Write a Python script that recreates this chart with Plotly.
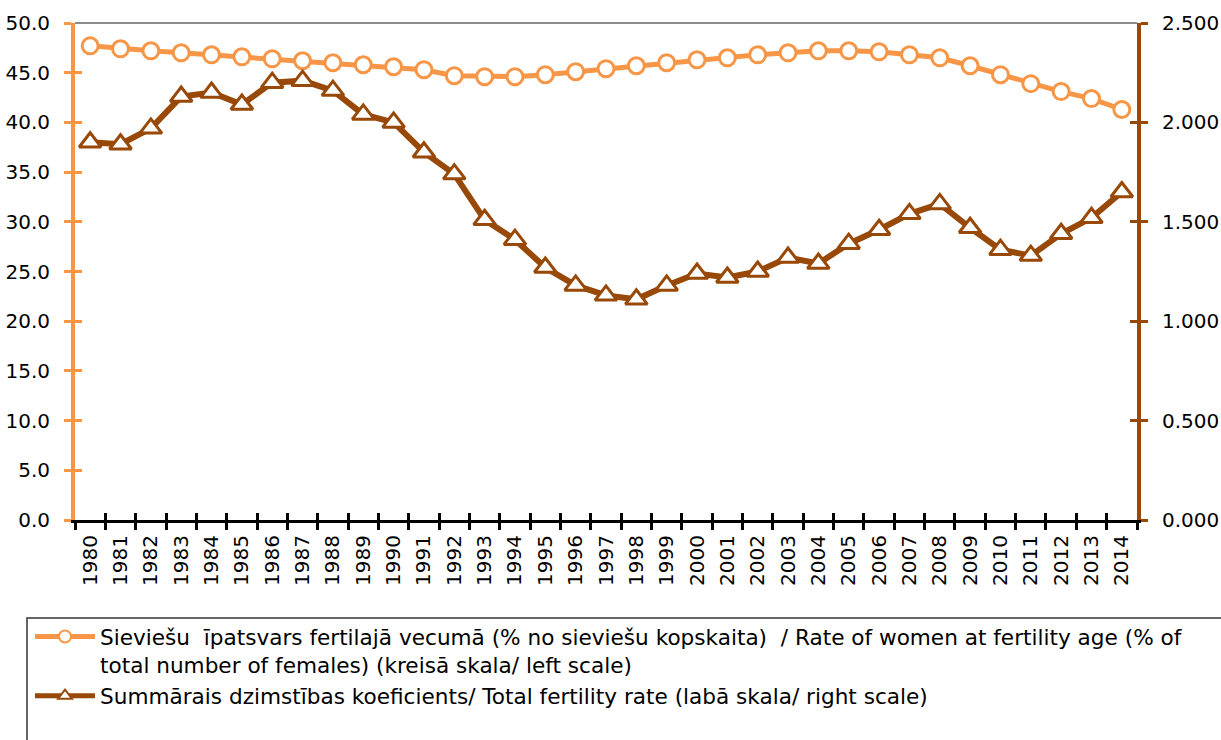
import plotly.graph_objects as go

years = [str(y) for y in range(1980, 2015)]

women_share = [47.7, 47.4, 47.2, 47.0, 46.8, 46.6, 46.4, 46.2, 46.0, 45.8,
               45.6, 45.3, 44.7, 44.6, 44.6, 44.8, 45.1, 45.4, 45.7, 46.0,
               46.3, 46.5, 46.8, 47.0, 47.2, 47.2, 47.1, 46.8, 46.5, 45.7,
               44.8, 43.9, 43.1, 42.4, 41.3]

fertility_rate = [1.90, 1.89, 1.97, 2.13, 2.15, 2.09, 2.20, 2.21, 2.16, 2.04,
                  2.00, 1.85, 1.74, 1.51, 1.41, 1.27, 1.18, 1.13, 1.11, 1.18,
                  1.24, 1.22, 1.25, 1.32, 1.29, 1.39, 1.46, 1.54, 1.59, 1.47,
                  1.36, 1.33, 1.44, 1.52, 1.65]

name_women = ("Sieviešu  īpatsvars fertilajā vecumā (% no sieviešu kopskaita)  / Rate of women at fertility age (% of"
              "<br>total number of females) (kreisā skala/ left scale)")
name_tfr = "Summārais dzimstības koeficients/ Total fertility rate (labā skala/ right scale)"

ORANGE = "#F79646"
BROWN = "#984807"
FONT = "DejaVu Sans"
TICK_SIZE = 20
LEG_SIZE = 21.6

W, H = 1221, 740
ML, MR, MT, MB = 75, 84, 23, 220
PW = W - ML - MR
PH = H - MT - MB


def px_x(px):
    return (px - ML) / PW


def px_y(py):
    return (H - MB - py) / PH


fig = go.Figure()

fig.add_trace(go.Scatter(
    x=years, y=women_share, name=name_women, mode="lines+markers",
    line=dict(color=ORANGE, width=5),
    marker=dict(symbol="circle", size=16, color="white", line=dict(color=ORANGE, width=3)),
    xaxis="x", yaxis="y", legendgroup="a",
))
fig.add_trace(go.Scatter(
    x=years, y=fertility_rate, name=name_tfr, mode="lines+markers",
    line=dict(color=BROWN, width=6),
    marker=dict(symbol="triangle-up", size=19, color="white", line=dict(color=BROWN, width=3)),
    xaxis="x", yaxis="y2", legendgroup="b",
))

fig.update_layout(
    width=W, height=H, autosize=False,
    margin=dict(l=ML, r=MR, t=MT, b=MB, autoexpand=False),
    paper_bgcolor="white", plot_bgcolor="white",
    font=dict(family=FONT, size=TICK_SIZE, color="black"),
    showlegend=True,
    legend=dict(
        x=px_x(30), y=px_y(616), xanchor="left", yanchor="top",
        bgcolor="rgba(0,0,0,0)", borderwidth=0,
        font=dict(family=FONT, size=LEG_SIZE, color="black"),
        valign="top", itemwidth=60, tracegroupgap=8, itemsizing="constant",
        traceorder="normal",
    ),
    xaxis=dict(
        type="category", categoryorder="array", categoryarray=years,
        range=[-0.5, len(years) - 0.5],
        tickson="boundaries", ticks="outside", ticklen=7, tickwidth=3, tickcolor="black",
        showline=True, linecolor="black", linewidth=3,
        showgrid=False, zeroline=False, tickangle=-90,
        tickfont=dict(family=FONT, size=TICK_SIZE, color="black"),
        ticklabelstandoff=4,
        anchor="y",
    ),
    xaxis2=dict(
        overlaying="x", type="linear", range=[-0.5, len(years) - 0.5],
        tick0=-0.5, dtick=1, ticks="inside", ticklen=7, tickwidth=3, tickcolor="black",
        showticklabels=False, showline=False, showgrid=False, zeroline=False,
        anchor="y", side="bottom",
    ),
    yaxis=dict(
        range=[0, 50], dtick=5, tick0=0, tickformat=".1f",
        ticks="outside", ticklen=7, tickwidth=3, tickcolor=ORANGE,
        showline=True, linecolor=ORANGE, linewidth=4,
        showgrid=False, zeroline=False,
        tickfont=dict(family=FONT, size=TICK_SIZE, color="black"),
        ticklabelstandoff=10,
    ),
    yaxis3=dict(
        overlaying="y", range=[0, 50], dtick=5, tick0=0,
        ticks="inside", ticklen=7, tickwidth=3, tickcolor=ORANGE,
        showticklabels=False, showline=False, showgrid=False, zeroline=False,
        anchor="x", side="left",
    ),
    yaxis2=dict(
        overlaying="y", side="right", anchor="x",
        range=[0, 2.5], dtick=0.5, tick0=0, tickformat=".3f",
        ticks="outside", ticklen=7, tickwidth=3, tickcolor=BROWN,
        showline=True, linecolor=BROWN, linewidth=4,
        showgrid=False, zeroline=False,
        tickfont=dict(family=FONT, size=TICK_SIZE, color="black"),
        ticklabelstandoff=10,
    ),
    yaxis4=dict(
        overlaying="y", side="right", anchor="x",
        range=[0, 2.5], dtick=0.5, tick0=0,
        ticks="inside", ticklen=7, tickwidth=3, tickcolor=BROWN,
        showticklabels=False, showline=False, showgrid=False, zeroline=False,
    ),
    shapes=[
        dict(type="line", xref="paper", yref="paper", x0=0, x1=1, y0=1, y1=1,
             line=dict(color="#8C8C8C", width=2), layer="below"),
        dict(type="rect", xref="paper", yref="paper",
             x0=px_x(27), x1=px_x(1240), y0=px_y(760), y1=px_y(618),
             line=dict(color="#333333", width=1.5), fillcolor="rgba(0,0,0,0)"),
    ],
)

# invisible helper traces so the overlay tick axes render
fig.add_trace(go.Scatter(x=[-0.5], y=[0], xaxis="x2", yaxis="y3", mode="markers",
                         marker=dict(opacity=0), showlegend=False, hoverinfo="skip"))
fig.add_trace(go.Scatter(x=[-0.5], y=[0], xaxis="x2", yaxis="y4", mode="markers",
                         marker=dict(opacity=0), showlegend=False, hoverinfo="skip"))

fig.write_html(
    "out.html",
    config={"displayModeBar": False},
    post_script="document.body.style.margin='0';document.body.style.overflow='hidden';",
)
